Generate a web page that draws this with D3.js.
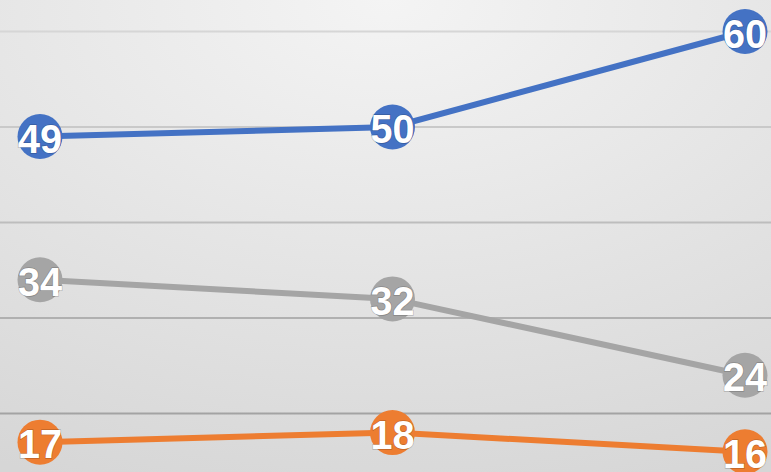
<!DOCTYPE html>
<html>
<head>
<meta charset="utf-8">
<script src="https://cdn.jsdelivr.net/npm/d3@7"></script>
<style>
  body { margin: 0; overflow: hidden; }
  svg { display: block; }
  .label { font-family: "Liberation Sans", Arial, sans-serif; font-weight: bold; fill: #fff; }
</style>
</head>
<body>
<svg id="chart"></svg>
<script>
// categories (no axis labels shown in the picture)
var categories = ["A", "B", "C"];
var blueValues = [49, 50, 60];
var grayValues = [34, 32, 24];
var orangeValues = [17, 18, 16];
var gridTicks = [20, 30, 40, 50, 60];

var width = 771, height = 472;

var svg = d3.select("#chart")
  .attr("width", width)
  .attr("height", height);

var defs = svg.append("defs");
var bg = defs.append("radialGradient")
  .attr("id", "bg")
  .attr("cx", "50%").attr("cy", "0%")
  .attr("r", "110%");
bg.append("stop").attr("offset", "0%").attr("stop-color", "#f4f4f4");
bg.append("stop").attr("offset", "100%").attr("stop-color", "#d6d6d6");

svg.append("rect")
  .attr("width", width)
  .attr("height", height)
  .attr("fill", "url(#bg)");

var x = d3.scalePoint()
  .domain(categories)
  .range([40, 745]);

var y = d3.scaleLinear()
  .domain([20, 60])
  .range([413.5, 31.5]);

// gridlines get darker towards the bottom
var gridColor = d3.scaleLinear()
  .domain([60, 20])
  .range(["#d6d6d6", "#a3a3a3"]);

svg.append("g")
  .selectAll("line")
  .data(gridTicks)
  .join("line")
  .attr("x1", 0)
  .attr("x2", width)
  .attr("y1", d => y(d))
  .attr("y2", d => y(d))
  .attr("stroke", d => gridColor(d))
  .attr("stroke-width", 2);

var series = [
  { name: "blue", values: blueValues, color: "#4472C4" },
  { name: "gray", values: grayValues, color: "#A5A5A5" },
  { name: "orange", values: orangeValues, color: "#ED7D31" }
];

var line = d3.line()
  .x((d, i) => x(categories[i]))
  .y(d => y(d));

series.forEach(s => {
  var g = svg.append("g");

  g.append("path")
    .datum(s.values)
    .attr("d", line)
    .attr("fill", "none")
    .attr("stroke", s.color)
    .attr("stroke-width", 6);

  g.selectAll("circle")
    .data(s.values)
    .join("circle")
    .attr("cx", (d, i) => x(categories[i]))
    .attr("cy", d => y(d))
    .attr("r", 22.5)
    .attr("fill", s.color);

  // narrow, tall white labels like the original
  g.selectAll("text")
    .data(s.values)
    .join("text")
    .attr("class", "label")
    .attr("x", (d, i) => x(categories[i]))
    .attr("y", d => y(d) + 2)
    .attr("text-anchor", "middle")
    .attr("dominant-baseline", "central")
    .attr("font-size", 41)
    .attr("textLength", 44)
    .attr("lengthAdjust", "spacingAndGlyphs")
    .style("paint-order", "stroke")
    .style("stroke", "rgba(0,0,0,0.2)")
    .style("stroke-width", 1.5)
    .text(d => d);
});
</script>
</body>
</html>
